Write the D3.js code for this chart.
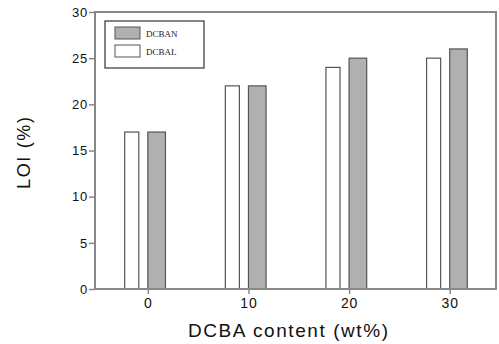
<!DOCTYPE html>
<html><head><meta charset="utf-8">
<script src="https://cdn.jsdelivr.net/npm/d3@7"></script>
<style>body{margin:0;background:#fff}svg{display:block}</style>
</head><body>
<script>
const categories = [0, 10, 20, 30];
const dcbal = [17, 22, 24, 25];   // white bars
const dcban = [17, 22, 25, 26];   // grey bars
const yTicks = [0, 5, 10, 15, 20, 25, 30];
const legendLabels = ["DCBAN", "DCBAL"];

const W = 499, H = 344;
const m = {left: 95, top: 12, right: 496, bottom: 289};
const svg = d3.select("body").append("svg").attr("width", W).attr("height", H);

const x = d3.scaleLinear().domain([-5.25, 34.6]).range([m.left, m.right]);
const y = d3.scaleLinear().domain([0, 30]).range([m.bottom, m.top]);

// bars
const g = svg.append("g");
g.selectAll(".w").data(categories).join("rect")
  .attr("x", (d) => x(d - 2.3)).attr("width", x(1.4) - x(0))
  .attr("y", (d, i) => y(dcbal[i])).attr("height", (d, i) => y(0) - y(dcbal[i]))
  .attr("fill", "#fff").attr("stroke", "#555").attr("stroke-width", 1.2);
g.selectAll(".g").data(categories).join("rect")
  .attr("x", (d) => x(d)).attr("width", x(1.75) - x(0))
  .attr("y", (d, i) => y(dcban[i])).attr("height", (d, i) => y(0) - y(dcban[i]))
  .attr("fill", "#b0b0b0").attr("stroke", "#555").attr("stroke-width", 1.2);

// frame
svg.append("rect").attr("x", m.left).attr("y", m.top)
  .attr("width", m.right - m.left).attr("height", m.bottom - m.top)
  .attr("fill", "none").attr("stroke", "#888").attr("stroke-width", 2);

// axes
const yAxis = svg.append("g").attr("transform", `translate(${m.left},0)`)
  .call(d3.axisLeft(y).tickValues(yTicks).tickSize(6).tickPadding(1));
const xAxis = svg.append("g").attr("transform", `translate(0,${m.bottom})`)
  .call(d3.axisBottom(x).tickValues(categories).tickSize(5).tickPadding(4));
[yAxis, xAxis].forEach(a => {
  a.select(".domain").remove();
  a.selectAll("line").attr("stroke", "#888").attr("stroke-width", 1.5);
  a.selectAll("text").attr("font-family", "Liberation Sans, Arial, sans-serif")
    .attr("font-size", 14).attr("fill", "#111");
});
yAxis.selectAll("text").attr("font-size", 13).attr("letter-spacing", 0.8);
xAxis.selectAll("text").attr("letter-spacing", 0.8);

// titles
svg.append("text").attr("transform", "translate(30,153) rotate(-90)")
  .attr("text-anchor", "middle").attr("font-family", "Liberation Sans, Arial, sans-serif")
  .attr("font-size", 18).attr("fill", "#111")
  .attr("textLength", 72).attr("lengthAdjust", "spacing").text("LOI (%)");
svg.append("text").attr("x", 288).attr("y", 337)
  .attr("text-anchor", "middle").attr("font-family", "Liberation Sans, Arial, sans-serif")
  .attr("font-size", 19).attr("fill", "#111")
  .attr("textLength", 200).attr("lengthAdjust", "spacing").text("DCBA content (wt%)");

// legend
const lg = svg.append("g");
lg.append("rect").attr("x", 105).attr("y", 21).attr("width", 99).attr("height", 47)
  .attr("fill", "#fff").attr("stroke", "#444").attr("stroke-width", 1.3);
const fills = ["#b0b0b0", "#fff"];
legendLabels.forEach((t, i) => {
  lg.append("rect").attr("x", 115).attr("y", 27 + i * 18).attr("width", 25).attr("height", 12)
    .attr("fill", fills[i]).attr("stroke", "#555").attr("stroke-width", 1);
  lg.append("text").attr("x", 146).attr("y", 37 + i * 18)
    .attr("font-family", "Liberation Serif, Times New Roman, serif").attr("font-size", 9)
    .attr("fill", "#222").text(t);
});
</script>
</body></html>
